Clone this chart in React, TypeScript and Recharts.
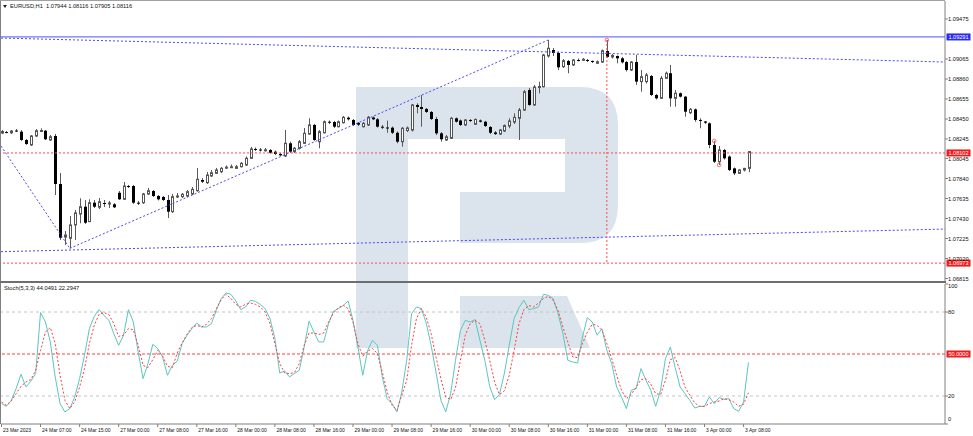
import { ComposedChart, Bar, Line, XAxis, YAxis, ReferenceLine, ReferenceDot } from "recharts"

// EURUSD H1 candles, 23 Mar 2023 23:00 .. 3 Apr 2023 09:00
const barOpen = [
	1.08306, 1.08316, 1.08309, 1.08332, 1.0832, 1.08235, 1.08184, 1.08276, 1.0833, 1.0833,
	1.08235, 1.08276, 1.07784, 1.0724, 1.07227, 1.07364, 1.07476, 1.07551, 1.07398, 1.07592,
	1.07545, 1.07589, 1.07584, 1.07576, 1.07694, 1.07627, 1.07763, 1.07763, 1.07592, 1.07592,
	1.07681, 1.07712, 1.07661, 1.07651, 1.0762, 1.075, 1.07654, 1.07654, 1.07661, 1.07681,
	1.07715, 1.07825, 1.07797, 1.07866, 1.07893, 1.0791, 1.07953, 1.07958, 1.07944, 1.07961,
	1.07979, 1.08047, 1.08143, 1.08137, 1.08132, 1.08132, 1.08115, 1.08091, 1.08071, 1.08201,
	1.08115, 1.0815, 1.08201, 1.08296, 1.08389, 1.08217, 1.08309, 1.08422, 1.08419, 1.08371,
	1.08412, 1.08463, 1.0844, 1.08409, 1.08371, 1.08389, 1.08465, 1.08447, 1.08371, 1.08363,
	1.08361, 1.08309, 1.08217, 1.08332, 1.08337, 1.08594, 1.08573, 1.08553, 1.08522, 1.0845,
	1.08303, 1.08235, 1.08252, 1.08457, 1.08435, 1.08389, 1.0844, 1.08396, 1.08435, 1.08422,
	1.08368, 1.08312, 1.08296, 1.08327, 1.08378, 1.08419, 1.08457, 1.08542, 1.08747, 1.08594,
	1.08778, 1.08781, 1.09096, 1.09157, 1.09127, 1.08986, 1.09045, 1.09004, 1.09055, 1.0906,
	1.09055, 1.09045, 1.09021, 1.09034, 1.09147, 1.09086, 1.09096, 1.09072, 1.09034, 1.08952,
	1.09034, 1.08833, 1.08833, 1.08891, 1.08696, 1.08662, 1.08867, 1.08919, 1.08662, 1.08714,
	1.08679, 1.08514, 1.08549, 1.0844, 1.08425, 1.08406, 1.08184, 1.08012, 1.08132, 1.08065,
	1.07944, 1.07893, 1.07927, 1.07944,
]
const barHigh = [
	1.08337, 1.08327, 1.08337, 1.08347, 1.08337, 1.08245, 1.08286, 1.08347, 1.08354, 1.08337,
	1.08286, 1.08296, 1.07896, 1.07302, 1.07456, 1.07517, 1.07637, 1.0762, 1.07627, 1.0762,
	1.0764, 1.0762, 1.0761, 1.07589, 1.07712, 1.07804, 1.07774, 1.07774, 1.0761, 1.07692,
	1.07743, 1.07722, 1.07671, 1.07661, 1.07671, 1.07681, 1.07692, 1.07692, 1.07722, 1.07753,
	1.07948, 1.07845, 1.07907, 1.07927, 1.07948, 1.07958, 1.07974, 1.07984, 1.07979, 1.08009,
	1.08066, 1.08163, 1.08158, 1.08153, 1.08153, 1.08143, 1.08127, 1.08102, 1.08337, 1.08217,
	1.08163, 1.08235, 1.08358, 1.08457, 1.08399, 1.08337, 1.08435, 1.08435, 1.0843, 1.08435,
	1.08481, 1.08476, 1.0845, 1.08419, 1.08419, 1.08481, 1.08476, 1.0846, 1.08389, 1.08433,
	1.08373, 1.08322, 1.08368, 1.08373, 1.08604, 1.08611, 1.08696, 1.08563, 1.08532, 1.08471,
	1.08317, 1.08286, 1.08471, 1.08466, 1.08445, 1.0845, 1.0845, 1.08455, 1.08445, 1.0843,
	1.08378, 1.08327, 1.08347, 1.08394, 1.08457, 1.08508, 1.08563, 1.08747, 1.08768, 1.08799,
	1.08832, 1.09116, 1.0926, 1.09178, 1.09142, 1.09065, 1.09055, 1.09065, 1.0907, 1.09075,
	1.09065, 1.0905, 1.0905, 1.09162, 1.0926, 1.09116, 1.09101, 1.09086, 1.09045, 1.09045,
	1.09106, 1.08952, 1.08922, 1.08901, 1.08707, 1.08891, 1.08935, 1.09004, 1.08747, 1.08722,
	1.08686, 1.08563, 1.08558, 1.08457, 1.0843, 1.08414, 1.08225, 1.08173, 1.08143, 1.08076,
	1.07953, 1.07938, 1.07948, 1.08116,
]
const barLow = [
	1.08296, 1.08306, 1.08296, 1.08316, 1.08225, 1.08184, 1.08174, 1.08266, 1.08316, 1.08235,
	1.08225, 1.07671, 1.0721, 1.07159, 1.07124, 1.0721, 1.07381, 1.07374, 1.07394, 1.07538,
	1.07527, 1.07548, 1.07538, 1.07538, 1.0762, 1.0762, 1.07743, 1.07579, 1.07569, 1.07579,
	1.07671, 1.07651, 1.07615, 1.0761, 1.07435, 1.07487, 1.0764, 1.0764, 1.07651, 1.07671,
	1.07705, 1.07794, 1.07784, 1.07856, 1.07886, 1.07896, 1.07938, 1.07948, 1.07938, 1.07953,
	1.07968, 1.0804, 1.08122, 1.08117, 1.08117, 1.08096, 1.08081, 1.08071, 1.08061, 1.08107,
	1.08102, 1.08137, 1.08194, 1.08286, 1.08225, 1.0815, 1.08301, 1.08399, 1.08358, 1.08363,
	1.08404, 1.08435, 1.08378, 1.08378, 1.08363, 1.08378, 1.0844, 1.08363, 1.08347, 1.08309,
	1.08296, 1.08201, 1.08166, 1.08316, 1.08322, 1.08508, 1.08371, 1.08512, 1.0844, 1.08286,
	1.08217, 1.08225, 1.08245, 1.08414, 1.08378, 1.08378, 1.08419, 1.08389, 1.08414, 1.08368,
	1.08296, 1.08286, 1.08286, 1.08316, 1.08355, 1.08399, 1.08235, 1.08532, 1.08584, 1.08584,
	1.08713, 1.08773, 1.0908, 1.09096, 1.08952, 1.08973, 1.08919, 1.08993, 1.0904, 1.09045,
	1.09034, 1.09024, 1.09014, 1.09024, 1.09075, 1.0907, 1.09021, 1.09019, 1.08937, 1.08942,
	1.08799, 1.0873, 1.08814, 1.08686, 1.0865, 1.08655, 1.0886, 1.08576, 1.08576, 1.08671,
	1.08473, 1.08501, 1.08422, 1.08355, 1.08399, 1.0815, 1.07999, 1.07979, 1.08035, 1.07917,
	1.07876, 1.07886, 1.07912, 1.07905,
]
const barClose = [
	1.08322, 1.08313, 1.08327, 1.08329, 1.08235, 1.08194, 1.08276, 1.0833, 1.08332, 1.08242,
	1.08268, 1.07784, 1.07233, 1.07261, 1.07364, 1.07487, 1.07551, 1.07387, 1.07592, 1.07551,
	1.07602, 1.07584, 1.07589, 1.07545, 1.07627, 1.07763, 1.07758, 1.07592, 1.07586, 1.07681,
	1.07715, 1.07661, 1.07627, 1.0762, 1.075, 1.07654, 1.07661, 1.07678, 1.07705, 1.07729,
	1.07832, 1.07807, 1.07876, 1.079, 1.07927, 1.07944, 1.07956, 1.07961, 1.07961, 1.07996,
	1.08047, 1.08143, 1.08137, 1.08132, 1.08134, 1.08104, 1.08091, 1.08078, 1.08201, 1.08115,
	1.0815, 1.08217, 1.08303, 1.08389, 1.08235, 1.0832, 1.08422, 1.08412, 1.08371, 1.08422,
	1.08467, 1.08447, 1.08389, 1.08392, 1.08406, 1.08467, 1.08447, 1.08371, 1.08361, 1.08353,
	1.08309, 1.08217, 1.08355, 1.08358, 1.08594, 1.08573, 1.08553, 1.08522, 1.0845, 1.08303,
	1.08242, 1.08268, 1.08457, 1.08422, 1.08389, 1.0844, 1.0843, 1.08445, 1.08422, 1.08378,
	1.08309, 1.08296, 1.08337, 1.08383, 1.0843, 1.08467, 1.08542, 1.0873, 1.08594, 1.08778,
	1.08783, 1.09106, 1.09175, 1.09127, 1.0898, 1.09048, 1.09004, 1.09055, 1.09052, 1.09062,
	1.09045, 1.09034, 1.09037, 1.0915, 1.09086, 1.09101, 1.09072, 1.09031, 1.08952, 1.09034,
	1.08833, 1.08884, 1.08901, 1.08696, 1.08662, 1.08867, 1.08919, 1.08662, 1.08714, 1.08679,
	1.08525, 1.08549, 1.0844, 1.08433, 1.08412, 1.08184, 1.08012, 1.08132, 1.08047, 1.07927,
	1.07893, 1.07927, 1.07944, 1.08116,
]

// Stoch(5,3,3): main (%K) and signal (%D)
const stochMain = [
	14.6, 12.6, 16.9, 25.3, 35.5, 26.4, 30.5, 36, 79.6, 72.9,
	58.6, 33.6, 14.6, 8.6, 11, 19.3, 32.4, 49, 68.1, 76.9,
	81.7, 77.6, 74, 64.6, 56.2, 63.4, 81.7, 72.9, 51.4, 32.4,
	43.1, 56.9, 53.9, 47.9, 34.8, 41.9, 45, 57.4, 63.4, 68.1,
	72.1, 69.3, 69.3, 71.7, 81.2, 89.6, 93.6, 92.6, 87.9, 81.7,
	83.6, 88.4, 87.6, 85.5, 82.4, 75.3, 61, 36.4, 37.9, 33.6,
	36, 38.4, 55, 73.4, 65.7, 58.6, 58.6, 71.7, 80.5, 82.4,
	84.6, 87.9, 74, 55, 34.8, 52.6, 59.8, 56.2, 33.6, 18.1,
	14.6, 8.6, 22.9, 45.5, 78.9, 83.6, 82.4, 72.1, 56.2, 37.1,
	16.9, 8.6, 21.7, 45.5, 66.9, 74, 72.9, 74.6, 59.8, 45.5,
	26.9, 17.4, 21.2, 36, 56.2, 75.3, 83.1, 88.4, 81.7, 82.4,
	83.6, 92.6, 91.9, 89.6, 78.9, 64.6, 45.5, 44.3, 43.6, 62.1,
	76, 72.9, 63.4, 68.1, 52.6, 43.1, 26.4, 19.3, 11, 24.1,
	25.3, 39.6, 31.2, 24.1, 12.6, 24.1, 46.7, 55, 40.3, 26.4,
	21.7, 16.9, 11.4, 12.6, 12.6, 19.3, 14.6, 18.9, 17.6, 18.1,
	11, 9.1, 15.7, 44.0491,
]
const stochSignal = [
	15.7, 13.4, 16.4, 21.7, 26.9, 30, 31.7, 38.4, 52.6, 65.7,
	68.9, 57.4, 34.8, 16.9, 11, 15.7, 26.4, 39.6, 57.4, 70.5,
	78.4, 79.6, 78.1, 71.7, 62.6, 63.4, 68.1, 67.4, 56.2, 41.9,
	40.3, 46, 52.6, 48.4, 41.2, 40.3, 50.7, 57.9, 64.1, 68.9,
	70.5, 69.3, 71.2, 75.3, 82.4, 88.9, 92.6, 89.6, 85.5, 83.6,
	85.5, 86.4, 85.5, 83.6, 80, 71.7, 57.4, 43.1, 36.4, 36,
	36.7, 43.1, 56.2, 65, 65, 63.9, 65, 72.9, 79.3, 83.1,
	84.8, 82.4, 72.9, 57.4, 48.4, 52.1, 53.9, 50.3, 37.1, 22.9,
	13.4, 9.8, 20.5, 31.2, 56.2, 75.3, 82.4, 76.4, 64.6, 47.9,
	32.4, 19.3, 17.4, 26, 45.5, 63.4, 71.7, 74, 71.7, 59.8,
	45.5, 30, 21, 23.6, 34.8, 52.6, 71.7, 81.7, 84.6, 83.6,
	86.4, 89.6, 91.2, 88.4, 81.2, 69.3, 58.6, 47.9, 47.4, 57.4,
	65.7, 71.2, 70.5, 66.9, 57.4, 46.7, 34.8, 24.1, 18.1, 21.2,
	26.4, 31.7, 32.4, 28.4, 21.7, 21, 31.2, 46, 47.4, 37.9,
	26.4, 20.5, 15, 12.6, 12.6, 14.6, 15.7, 16.4, 18.1, 17.4,
	15.7, 12.6, 14.1, 22.2947,
]

const priceTicks = [1.09475, 1.09065, 1.0886, 1.08655, 1.0845, 1.08245, 1.08045, 1.0784, 1.07635, 1.0743, 1.07225, 1.0702, 1.06815]
const stochTicks = [0, 20, 80, 100]
const timeTickBars = [0, 8, 16, 24, 32, 40, 48, 56, 64, 72, 80, 88, 96, 104, 112, 120, 128, 136, 144, 152]
const timeTickLabels = [
	"23 Mar 2023", "24 Mar 07:00", "24 Mar 15:00", "27 Mar 00:00", "27 Mar 08:00", "27 Mar 16:00",
	"28 Mar 00:00", "28 Mar 08:00", "28 Mar 16:00", "29 Mar 00:00", "29 Mar 08:00", "29 Mar 16:00",
	"30 Mar 00:00", "30 Mar 08:00", "30 Mar 16:00", "31 Mar 00:00", "31 Mar 08:00", "31 Mar 16:00",
	"3 Apr 00:00", "3 Apr 08:00",
]

// drawn objects (bar index, price)
const channelTop = [{ x: -0.1, y: 1.0928 }, { x: 193.26, y: 1.09034 }]
const channelBottom = [{ x: -0.1, y: 1.0709 }, { x: 193.26, y: 1.07322 }]
const zigzag = [{ x: -0.1, y: 1.08173 }, { x: 14, y: 1.07124 }, { x: 112, y: 1.0926 }]
const blueLevel = 1.09291
const redLevels = [1.08102, 1.06973]
const markedBar = 124
const fractalUp = [124, 146]
const fractalDown = [147]

const X_DOMAIN: [number, number] = [-0.1, 193.26]
const PRICE_DOMAIN: [number, number] = [1.067895, 1.096595]

const rows = barOpen.map((open, i) => ({
	i,
	open,
	high: barHigh[i],
	low: barLow[i],
	close: barClose[i],
	main: stochMain[i],
	signal: stochSignal[i],
}))

const last = rows[rows.length - 1]
const FONT = "'Liberation Sans', Arial, sans-serif"

function Candle(props: any) {
	const { x, y, width, height, payload } = props
	if (x == null || y == null) return null
	const { open, close, high, low } = payload
	const top = Math.min(y, y + height)
	const h = Math.abs(height)
	const perUnit = high > low ? h / (high - low) : 0
	const yOf = (v: number) => top + (high - v) * perUnit
	const cx = Math.round(x + width / 2) + 0.5
	const bodyTop = yOf(Math.max(open, close))
	const bodyH = Math.max(yOf(Math.min(open, close)) - bodyTop, 1)
	const bull = close >= open
	return (
		<g>
			<line x1={cx} x2={cx} y1={top} y2={top + h} stroke="#5a5a5a" strokeWidth={1} />
			{bull ? (
				<rect x={cx - 1} y={bodyTop} width={2} height={bodyH} fill="#fff" stroke="#555" strokeWidth={1} />
			) : (
				<rect x={cx - 1.5} y={bodyTop} width={3} height={bodyH} fill="#000" />
			)}
		</g>
	)
}

const tagLabel = (text: string, fill: string) => (props: any) => {
	const vb = props.viewBox || {}
	const x = (vb.x ?? 0) + (vb.width ?? 0) + 1.5
	const y = vb.y ?? 0
	return (
		<g>
			<rect x={x} y={y - 3.5} width={24} height={7} fill={fill} />
			<text x={x + 12} y={y + 2} fill="#fff" fontSize={5.6} textAnchor="middle" fontFamily={FONT}>
				{text}
			</text>
		</g>
	)
}

function PriceTick(props: any) {
	const { x, y, payload } = props
	return (
		<text x={x} y={y} dy={2} fontSize={5.7} fill="#111" fontFamily={FONT}>
			{payload.value.toFixed(5)}
		</text>
	)
}

function StochTick(props: any) {
	const { x, y, payload } = props
	const shift = payload.value === 100 ? 2 : payload.value === 0 ? -5 : 0
	return (
		<text x={x} y={y + shift} dy={2} fontSize={5.7} fill="#111" fontFamily={FONT}>
			{payload.value}
		</text>
	)
}

function TimeTick(props: any) {
	const { x, y, payload } = props
	const label = timeTickLabels[timeTickBars.indexOf(payload.value)]
	return (
		<text x={x + 1.5} y={y} dy={5.3} fontSize={5} fill="#111" fontFamily={FONT}>
			{label}
		</text>
	)
}

function Watermark() {
	return (
		<svg width={973} height={436} style={{ position: "absolute", left: 0, top: 0 }}>
			<path
				d="M356,87 H580 Q618,87 618,125 V205 Q618,243 580,243 H460 V192 H565 V139 H408 V348 H356 Z"
				fill="#dbe3ed"
			/>
			<path d="M460,296 H567 L590,348 H460 Z" fill="#dbe3ed" />
		</svg>
	)
}

export default function App() {
	return (
		<div
			style={{
				position: "absolute",
				left: 0,
				top: 0,
				width: 973,
				height: 436,
				background: "#fff",
				overflow: "hidden",
				fontFamily: FONT,
			}}
		>
			<Watermark />

			<div style={{ position: "absolute", left: 0, top: 0 }}>
				<ComposedChart width={973} height={283} data={rows} margin={{ top: 1, right: 0, bottom: 2, left: 1 }}>
					<XAxis dataKey="i" type="number" domain={X_DOMAIN} allowDataOverflow hide height={0} />
					<YAxis
						orientation="right"
						domain={PRICE_DOMAIN}
						allowDataOverflow
						ticks={priceTicks}
						interval={0}
						width={28}
						tickSize={3}
						tickMargin={0}
						tick={<PriceTick />}
						axisLine={{ stroke: "#808080" }}
						tickLine={{ stroke: "#808080" }}
					/>
					<ReferenceLine segment={channelTop} stroke="#4a4af0" strokeDasharray="2 2" ifOverflow="hidden" />
					<ReferenceLine segment={channelBottom} stroke="#4a4af0" strokeDasharray="2 2" ifOverflow="hidden" />
					<ReferenceLine segment={[zigzag[0], zigzag[1]]} stroke="#4a4af0" strokeDasharray="2 2" ifOverflow="hidden" />
					<ReferenceLine segment={[zigzag[1], zigzag[2]]} stroke="#4a4af0" strokeDasharray="2 2" ifOverflow="hidden" />
					<ReferenceLine y={blueLevel} stroke="#7373ff" strokeWidth={1.2} label={tagLabel(blueLevel.toFixed(5), "#2b2bf2")} />
					{redLevels.map((lv) => (
						<ReferenceLine key={lv} y={lv} stroke="#ff4a4a" strokeDasharray="2 2" label={tagLabel(lv.toFixed(5), "#f21a1a")} />
					))}
					<ReferenceLine
						segment={[
							{ x: markedBar, y: barHigh[markedBar] },
							{ x: markedBar, y: redLevels[1] },
						]}
						stroke="#ff4a4a"
						strokeDasharray="2 2"
					/>
					<Bar
						dataKey={(d: any) => [d.low, d.high]}
						shape={<Candle />}
						barSize={3}
						isAnimationActive={false}
					/>
					{fractalUp.map((b) => (
						<ReferenceDot key={"u" + b} x={b} y={barHigh[b]} r={1.8} fill="none" stroke="#ff5050" strokeWidth={0.8} />
					))}
					{fractalDown.map((b) => (
						<ReferenceDot key={"d" + b} x={b} y={barLow[b]} r={1.8} fill="none" stroke="#ff5050" strokeWidth={0.8} />
					))}
				</ComposedChart>
			</div>

			<div style={{ position: "absolute", left: 0, top: 283 }}>
				<ComposedChart width={973} height={153} data={rows} margin={{ top: 1, right: 0, bottom: 0, left: 1 }}>
					<XAxis
						dataKey="i"
						type="number"
						domain={X_DOMAIN}
						allowDataOverflow
						ticks={timeTickBars}
						interval={0}
						height={12}
						tickSize={3}
						tickMargin={0}
						tick={<TimeTick />}
						axisLine={{ stroke: "#808080" }}
						tickLine={{ stroke: "#808080" }}
					/>
					<YAxis
						orientation="right"
						domain={[0, 100]}
						allowDataOverflow
						ticks={stochTicks}
						interval={0}
						width={28}
						tickSize={3}
						tickMargin={0}
						tick={<StochTick />}
						axisLine={{ stroke: "#808080" }}
						tickLine={{ stroke: "#808080" }}
					/>
					<ReferenceLine y={80} stroke="#c4c4c4" strokeDasharray="3 3" />
					<ReferenceLine y={20} stroke="#c4c4c4" strokeDasharray="3 3" />
					<ReferenceLine y={50} stroke="#ff4040" strokeDasharray="3 2" label={tagLabel("50.0000", "#f21a1a")} />
					<Line type="linear" dataKey="main" stroke="#5cc6c0" strokeWidth={1} dot={false} isAnimationActive={false} />
					<Line type="linear" dataKey="signal" stroke="#ff3d3d" strokeWidth={1} strokeDasharray="2 2" dot={false} isAnimationActive={false} />
				</ComposedChart>
			</div>

			<svg width={973} height={436} style={{ position: "absolute", left: 0, top: 0, pointerEvents: "none" }}>
				<line x1={0.5} y1={0} x2={0.5} y2={424} stroke="#808080" />
				<line x1={0} y1={0.5} x2={945} y2={0.5} stroke="#a0a0a0" />
				<rect x={0} y={281} width={946} height={2} fill="#6e6e6e" />
				<polygon points="3,5 7,5 5,8" fill="#222" />
				<text x={10} y={8} fontSize={5.7} fill="#111" fontFamily={FONT} style={{ whiteSpace: "pre" }}>
					{`EURUSD,H1  ${last.open.toFixed(5)} ${last.high.toFixed(5)} ${last.low.toFixed(5)} ${last.close.toFixed(5)}`}
				</text>
				<text x={4} y={290} fontSize={5.7} fill="#111" fontFamily={FONT} style={{ whiteSpace: "pre" }}>
					{`Stoch(5,3,3) ${last.main.toFixed(4)} ${last.signal.toFixed(4)}`}
				</text>
			</svg>
		</div>
	)
}
